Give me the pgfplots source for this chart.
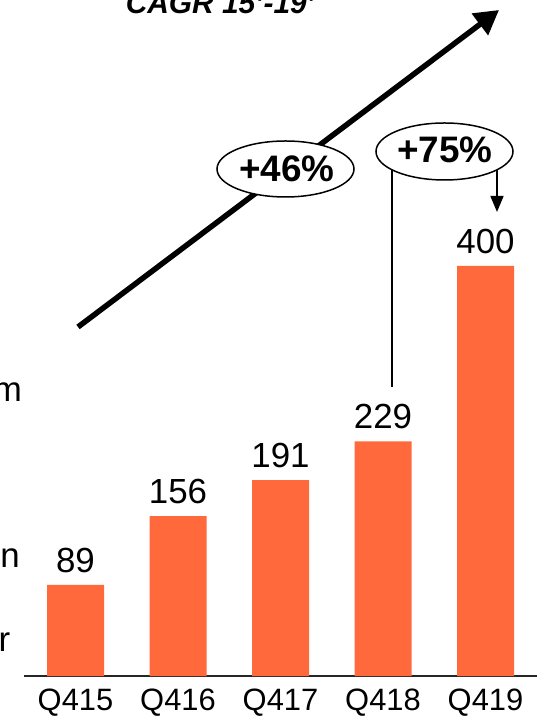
\documentclass[border=0pt]{standalone}
\usepackage{pgfplots}
\pgfplotsset{compat=1.18}
\usepackage{fontspec}
\setmainfont{Liberation Sans}
\usetikzlibrary{arrows.meta}
\definecolor{barorange}{RGB}{255,105,60}
\begin{document}
\begin{tikzpicture}
\path[use as bounding box] (0,0) rectangle (538bp,721bp);
\begin{axis}[
  at={(24.25bp,45bp)}, anchor=south west,
  width=512.5bp, height=676bp, scale only axis,
  xmin=-0.5, xmax=4.5, ymin=0, ymax=659.5,
  axis x line*=bottom, axis y line=none,
  x axis line style={line width=2bp, black!85},
  xtick={0,1,2,3,4}, xticklabels={Q415,Q416,Q417,Q418,Q419},
  major tick length=0pt,
  xticklabel style={font=\fontsize{31}{31}\selectfont, inner sep=0pt, anchor=north, yshift=-13bp},
  ybar, bar width=57bp,
  /pgf/number format/assume math mode=true,
  nodes near coords={\pgfmathprintnumber{\pgfplotspointmeta}},
  every node near coord/.append style={font=\fontsize{35}{35}\selectfont, inner sep=0pt, yshift=12bp, text=black},
  clip=false,
]
\addplot[fill=barorange, draw=none] coordinates {(0,89) (1,156) (2,191) (3,229) (4,400)};
\end{axis}
\begin{scope}[shift={(0,721bp)}, x=1bp, y=-1bp]
  \draw[line width=5.5bp, -{Triangle[length=24bp,width=26bp]}] (78,327) -- (499,10);
  \node[anchor=base, inner sep=0pt, font=\fontsize{30}{30}\selectfont\bfseries\itshape] at (220.5,14) {CAGR 15'-19'};
  \draw[line width=1.5bp, fill=white] (285.5,169) ellipse [x radius=68.5bp, y radius=28bp];
  \node[anchor=base, inner sep=0pt, font=\fontsize{37}{37}\selectfont\bfseries] at (287,182) {+46\%};
  \draw[line width=1.5bp] (392,170) -- (392,387);
  \draw[line width=1.5bp, -{Triangle[length=16bp,width=13bp]}] (497,170) -- (497,212);
  \draw[line width=1.5bp, fill=white] (444.5,151.5) ellipse [x radius=68.5bp, y radius=28.5bp];
  \node[anchor=base, inner sep=0pt, font=\fontsize{37}{37}\selectfont\bfseries] at (445,163) {+75\%};
  \node[anchor=base east, inner sep=0pt, font=\fontsize{35}{35}\selectfont] at (22,402) {m};
  \node[anchor=base east, inner sep=0pt, font=\fontsize{35}{35}\selectfont] at (20,568) {n};
  \node[anchor=base east, inner sep=0pt, font=\fontsize{35}{35}\selectfont] at (10.5,652) {r};
\end{scope}
\end{tikzpicture}
\end{document}
